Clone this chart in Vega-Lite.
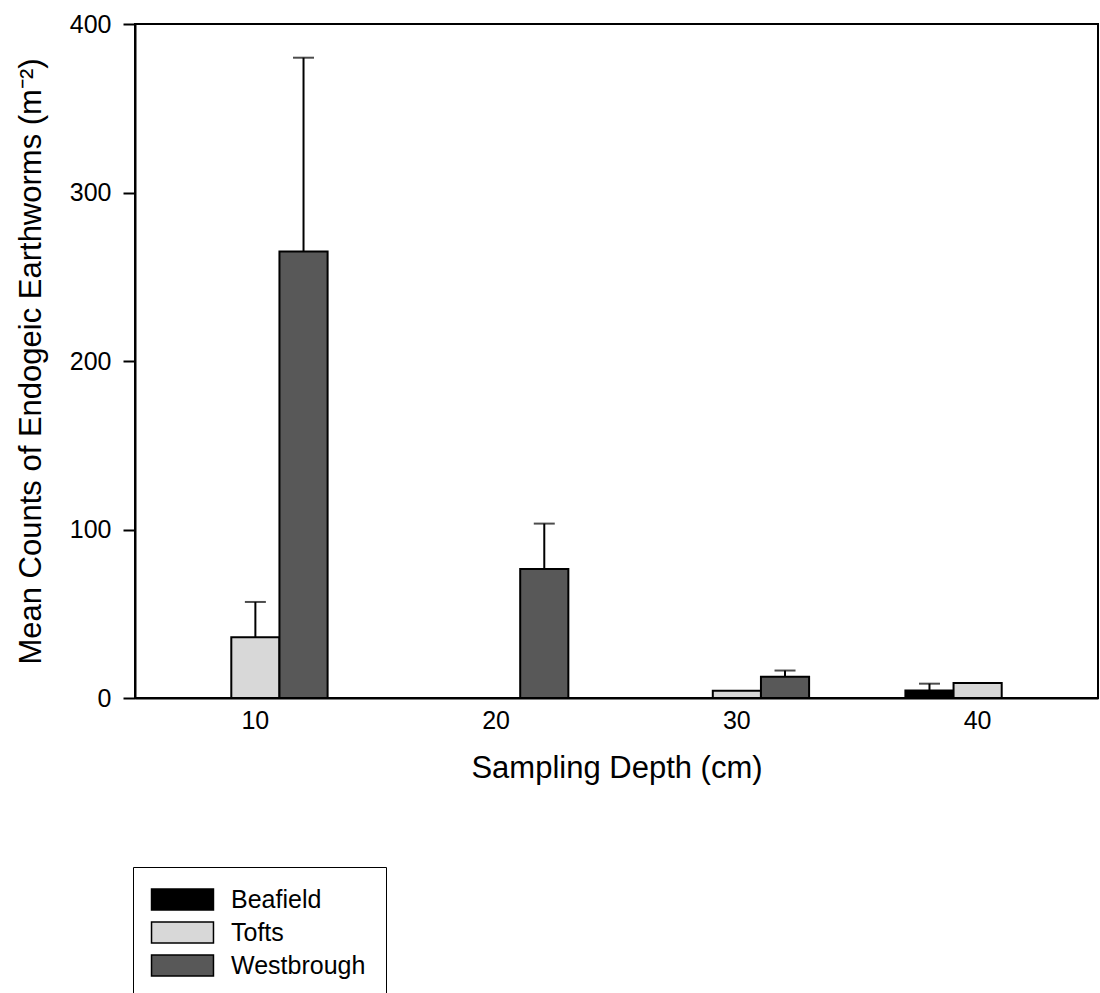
{
  "$schema": "https://vega.github.io/schema/vega-lite/v6.json",
  "autosize": "none",
  "width": 963,
  "height": 674,
  "padding": {"left": 135, "top": 24, "right": 2, "bottom": 295},
  "background": "white",
  "config": {
    "font": "Liberation Sans",
    "view": {"stroke": "black", "strokeWidth": 2},
    "axis": {
      "domainColor": "black",
      "domainWidth": 2,
      "tickColor": "black",
      "tickWidth": 2,
      "grid": false,
      "labelColor": "black",
      "titleColor": "black",
      "labelFont": "Liberation Sans",
      "titleFont": "Liberation Sans",
      "titleFontWeight": "normal"
    }
  },
  "data": {
    "values": [
      {"depth": "10", "site": "Tofts", "mean": 36, "upper": 57},
      {"depth": "10", "site": "Westbrough", "mean": 265, "upper": 380},
      {"depth": "20", "site": "Westbrough", "mean": 76.5, "upper": 103.5},
      {"depth": "30", "site": "Tofts", "mean": 4.3, "upper": null},
      {"depth": "30", "site": "Westbrough", "mean": 12.6, "upper": 16.3},
      {"depth": "40", "site": "Beafield", "mean": 4.5, "upper": 8.5},
      {"depth": "40", "site": "Tofts", "mean": 8.9, "upper": null}
    ]
  },
  "encoding": {
    "x": {
      "field": "depth",
      "type": "nominal",
      "sort": ["10", "20", "30", "40"],
      "scale": {"domain": ["10", "20", "30", "40"], "paddingInner": 0, "paddingOuter": 0},
      "axis": {
        "title": "Sampling Depth (cm)",
        "labelAngle": 0,
        "labelFontSize": 25,
        "ticks": false,
        "tickSize": 0,
        "labelPadding": 10,
        "titleFontSize": 31,
        "titlePadding": 20
      }
    },
    "xOffset": {
      "field": "site",
      "type": "nominal",
      "scale": {"domain": ["Beafield", "Tofts", "Westbrough"], "paddingInner": 0, "paddingOuter": 1}
    }
  },
  "layer": [
    {
      "mark": {"type": "bar", "stroke": "black", "strokeWidth": 2},
      "encoding": {
        "y": {
          "field": "mean",
          "type": "quantitative",
          "scale": {"domain": [0, 400], "nice": false},
          "axis": {
            "title": "Mean Counts of Endogeic Earthworms (m⁻²)",
            "values": [0, 100, 200, 300, 400],
            "tickSize": 12,
            "labelFontSize": 25,
            "labelPadding": 12,
            "titleFontSize": 31,
            "titlePadding": 22
          }
        },
        "fill": {
          "field": "site",
          "type": "nominal",
          "scale": {
            "domain": ["Beafield", "Tofts", "Westbrough"],
            "range": ["#000000", "#d8d8d8", "#585858"]
          },
          "legend": {
            "title": null,
            "orient": "none",
            "legendX": -2,
            "legendY": 843,
            "direction": "vertical",
            "strokeColor": "black",
            "fillColor": "white",
            "padding": 20,
            "labelFontSize": 25,
            "labelColor": "black",
            "labelOffset": 36,
            "symbolType": "M-2.95,-1H2.95V1H-2.95Z",
            "symbolSize": 441,
            "symbolOffset": 17,
            "symbolStrokeColor": "black",
            "symbolStrokeWidth": 1.5,
            "symbolOpacity": 1,
            "rowPadding": 6
          }
        }
      }
    },
    {
      "transform": [{"filter": "datum.upper != null"}],
      "mark": {"type": "rule", "color": "black", "strokeWidth": 2},
      "encoding": {
        "y": {"field": "mean", "type": "quantitative"},
        "y2": {"field": "upper"}
      }
    },
    {
      "transform": [{"filter": "datum.upper != null"}],
      "mark": {"type": "tick", "color": "black", "thickness": 2, "size": 21, "orient": "horizontal"},
      "encoding": {
        "y": {"field": "upper", "type": "quantitative"}
      }
    }
  ]
}
